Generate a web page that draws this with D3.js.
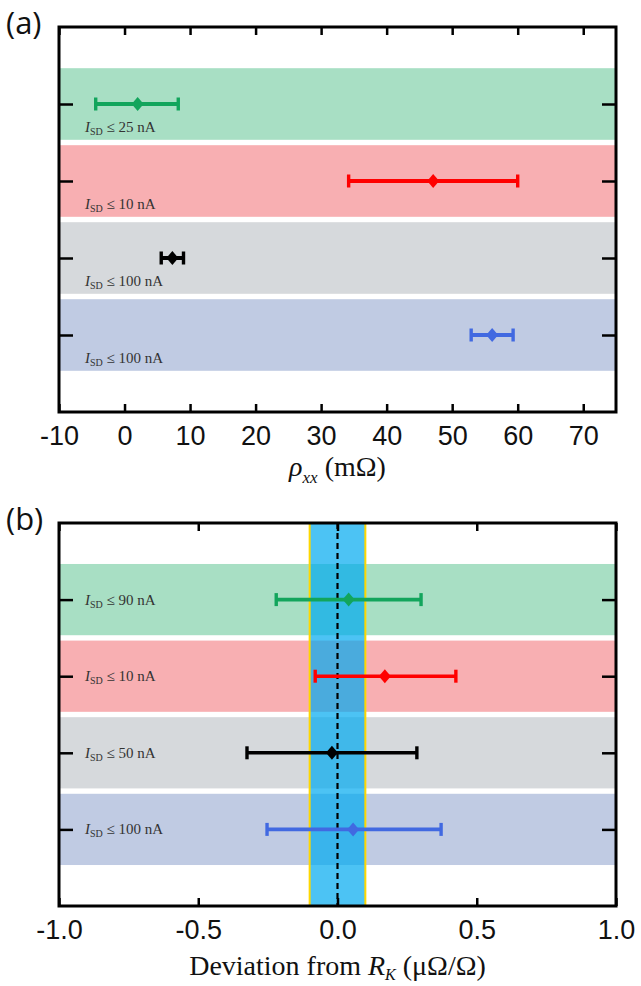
<!DOCTYPE html>
<html lang="en">
<head>
<meta charset="UTF-8">
<script src="https://d3js.org/d3.v7.min.js"></script>
<title>rho_xx and deviation from R_K</title>
<style>
  body { margin: 0; background: #fff; }
  svg { display: block; }
  .tick text { font-family: "Liberation Sans", Arial, sans-serif; font-size: 27px; fill: #111; }
  .axis-title { font-family: "Liberation Serif", "Times New Roman", serif; font-size: 28px; fill: #111; }
  .panel-tag { font-family: "Open Sans", "DejaVu Sans", sans-serif; font-size: 31px; fill: #111; }
  .row-label { font-family: "Liberation Serif", "Times New Roman", serif; font-size: 15px; fill: #333; }
</style>
</head>
<body>
<svg id="chart" width="641" height="986"></svg>
<script>
  // rows from top to bottom: green, red, black, blue
  const rhoCenter = [2.0, 47.1, 7.3, 56.1];
  const rhoLow    = [-4.4, 34.2, 5.6, 52.9];
  const rhoHigh   = [8.2, 60.0, 9.0, 59.3];
  const rhoCurrent = [25, 10, 100, 100];
  const rhoTicks = [-10, 0, 10, 20, 30, 40, 50, 60, 70];

  const devCenter = [0.04, 0.17, -0.02, 0.056];
  const devLow    = [-0.22, -0.08, -0.325, -0.253];
  const devHigh   = [0.30, 0.425, 0.285, 0.372];
  const devCurrent = [90, 10, 50, 100];
  const devTicks = [-1.0, -0.5, 0.0, 0.5, 1.0];
  const refBand = [-0.1, 0.1];

  const bandColors = ["#a8dfc4", "#f8afb2", "#d6d9dc", "#c0cbe3"];
  const markColors = ["#12a55c", "#ff0000", "#000000", "#4169e1"];

  const svg = d3.select("svg#chart");

  // small diamond marker
  const diamond = {
    draw(ctx, size) {
      const w = 6, h = 7;
      ctx.moveTo(0, -h); ctx.lineTo(w, 0); ctx.lineTo(0, h); ctx.lineTo(-w, 0); ctx.closePath();
    }
  };

  // plain hyphen instead of the unicode minus, like the original
  const hyphen = f => v => f(v).replace("\u2212", "-");

  function drawPanel(p) {
    const x = d3.scaleLinear().domain(p.xDomain).range([59, 616]);
    const y = d3.scaleLinear().domain([0, 5]).range([p.top, p.bottom]);
    const rows = p.center.map((c, i) => ({
      i: i, c: c, lo: p.low[i], hi: p.high[i], cur: p.current[i]
    }));
    const g = svg.append("g");

    // coloured bands
    g.selectAll("rect.band").data(rows).join("rect")
      .attr("class", "band")
      .attr("x", x.range()[0]).attr("width", x.range()[1] - x.range()[0])
      .attr("y", d => y(d.i + 1 - 0.465))
      .attr("height", y(0.93) - y(0))
      .attr("fill", d => bandColors[d.i]);

    // reference band (only panel b)
    if (p.ref) {
      g.append("rect")
        .attr("x", x(p.ref[0])).attr("width", x(p.ref[1]) - x(p.ref[0]))
        .attr("y", p.top).attr("height", p.bottom - p.top)
        .attr("fill", "#00aaf0").attr("fill-opacity", 0.7);
      g.selectAll("line.edge").data(p.ref).join("line")
        .attr("class", "edge")
        .attr("x1", d => x(d)).attr("x2", d => x(d))
        .attr("y1", p.top).attr("y2", p.bottom)
        .attr("stroke", "#ffd700").attr("stroke-width", 2);
      g.append("line")
        .attr("x1", x(0)).attr("x2", x(0))
        .attr("y1", p.top).attr("y2", p.bottom)
        .attr("stroke", "#000").attr("stroke-width", 2.2)
        .attr("stroke-dasharray", "6,4");
    }

    // row labels
    const lab = g.selectAll("text.row-label").data(rows).join("text")
      .attr("class", "row-label")
      .attr("x", 85)
      .attr("y", d => y(d.i + 1) + p.labelDy);
    lab.append("tspan").attr("font-style", "italic").text("I");
    lab.append("tspan").attr("font-size", "10px").attr("dy", 3).text("SD");
    lab.append("tspan").attr("dy", -3).text(d => ` \u2264 ${d.cur} nA`);

    // error bars
    const bars = g.selectAll("g.bar").data(rows).join("g").attr("class", "bar")
      .attr("stroke", d => markColors[d.i]).attr("fill", d => markColors[d.i]);
    bars.append("line")
      .attr("x1", d => x(d.lo)).attr("x2", d => x(d.hi))
      .attr("y1", d => y(d.i + 1)).attr("y2", d => y(d.i + 1))
      .attr("stroke-width", p.barWidth);
    bars.selectAll("line.cap").data(d => [d.lo, d.hi].map(v => ({v: v, i: d.i}))).join("line")
      .attr("class", "cap")
      .attr("x1", d => x(d.v)).attr("x2", d => x(d.v))
      .attr("y1", d => y(d.i + 1) - 6.5).attr("y2", d => y(d.i + 1) + 6.5)
      .attr("stroke-width", 3.4);
    bars.append("path")
      .attr("d", d3.symbol().type(diamond))
      .attr("transform", d => `translate(${x(d.c)},${y(d.i + 1)})`)
      .attr("stroke", "none");

    // axes, ticks pointing inward on all four sides
    const bottom = g.append("g").attr("transform", `translate(0,${p.bottom})`)
      .call(d3.axisBottom(x).tickValues(p.ticks).tickSize(-8).tickPadding(14).tickFormat(hyphen(p.fmt)));
    const topAx = g.append("g").attr("transform", `translate(0,${p.top})`)
      .call(d3.axisTop(x).tickValues(p.ticks).tickSize(-8).tickFormat(""));
    const left = g.append("g").attr("transform", `translate(${x.range()[0]},0)`)
      .call(d3.axisLeft(y).tickValues([1, 2, 3, 4]).tickSize(-14).tickFormat(""));
    const right = g.append("g").attr("transform", `translate(${x.range()[1]},0)`)
      .call(d3.axisRight(y).tickValues([1, 2, 3, 4]).tickSize(-14).tickFormat(""));
    [bottom, topAx, left, right].forEach(a => {
      a.select(".domain").remove();
      a.selectAll(".tick line").attr("stroke", "#000").attr("stroke-width", 2.5);
    });
    bottom.selectAll(".tick text").attr("y", 14).attr("dy", "0.71em");

    // frame
    g.append("rect")
      .attr("x", x.range()[0]).attr("y", p.top)
      .attr("width", x.range()[1] - x.range()[0]).attr("height", p.bottom - p.top)
      .attr("fill", "none").attr("stroke", "#000").attr("stroke-width", 3);

    // panel tag
    g.append("text").attr("class", "panel-tag").attr("x", 6).attr("y", p.top + 7).text(p.tag);

    // axis title
    const t = g.append("text").attr("class", "axis-title")
      .attr("x", (x.range()[0] + x.range()[1]) / 2).attr("y", p.bottom + p.titleDy)
      .attr("text-anchor", "middle");
    p.title(t);
  }

  drawPanel({
    tag: "(a)", top: 27, bottom: 412, xDomain: [-10, 75],
    center: rhoCenter, low: rhoLow, high: rhoHigh, current: rhoCurrent,
    ticks: rhoTicks, fmt: d3.format("d"), labelDy: 28, barWidth: 4,
    titleDy: 64,
    title: t => {
      t.append("tspan").attr("font-style", "italic").text("\u03C1");
      t.append("tspan").attr("font-style", "italic").attr("font-size", "17px").attr("dy", 7).text("xx");
      t.append("tspan").attr("dy", -7).text(" (m\u03A9)");
    }
  });

  drawPanel({
    tag: "(b)", top: 523, bottom: 906, xDomain: [-1, 1], ref: refBand,
    center: devCenter, low: devLow, high: devHigh, current: devCurrent,
    ticks: devTicks, fmt: d3.format(".1f"), labelDy: 5, barWidth: 3.6,
    titleDy: 69,
    title: t => {
      t.append("tspan").text("Deviation from ");
      t.append("tspan").attr("font-style", "italic").text("R");
      t.append("tspan").attr("font-style", "italic").attr("font-size", "16px").attr("dy", 5).text("K");
      t.append("tspan").attr("dy", -5).text(" (\u03BC\u03A9/\u03A9)");
    }
  });
</script>
</body>
</html>
